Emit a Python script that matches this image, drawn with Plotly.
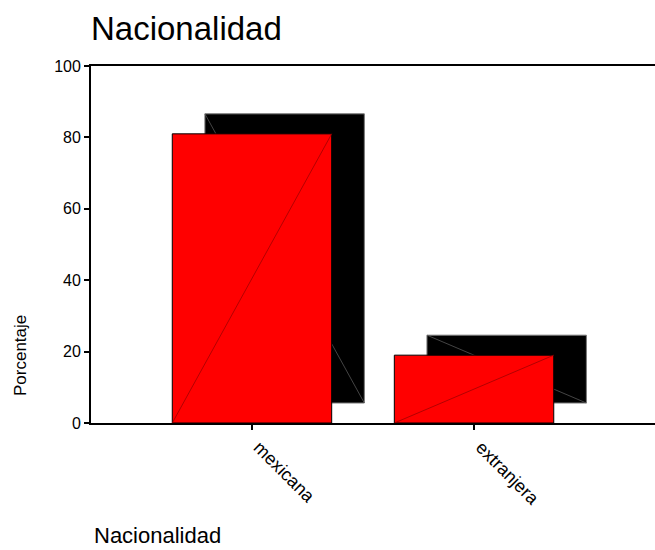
import plotly.graph_objects as go

# Data
categorias = ["mexicana", "extranjera"]
porcentajes = [81.0, 19.0]
y_ticks = [0, 20, 40, 60, 80, 100]

# Bar geometry (in axis units)
ANCHO = 0.718
DX, DY = 0.147, 5.6   # offset of the 3-D shadow block

FONT = "Liberation Sans, Arial, sans-serif"

fig = go.Figure()

for i, v in enumerate(porcentajes):
    x0, x1 = i - ANCHO / 2, i + ANCHO / 2
    # shadow block behind the bar
    sx0, sx1 = x0 + DX, x1 + DX
    fig.add_trace(go.Scatter(
        x=[sx0, sx1, sx1, sx0, sx0], y=[DY, DY, DY + v, DY + v, DY],
        fill="toself", fillcolor="black", mode="lines",
        line=dict(color="#777777", width=1), hoverinfo="skip", showlegend=False))
    fig.add_trace(go.Scatter(
        x=[sx0, sx1], y=[DY + v, DY], mode="lines",
        line=dict(color="#555555", width=0.8), hoverinfo="skip", showlegend=False))
    # front red face
    fig.add_trace(go.Scatter(
        x=[x0, x1, x1, x0, x0], y=[0, 0, v, v, 0],
        fill="toself", fillcolor="#ff0000", mode="lines",
        line=dict(color="black", width=1), name=categorias[i],
        hovertemplate="%{fullData.name}: " + f"{v:.1f}%<extra></extra>", showlegend=False))
    fig.add_trace(go.Scatter(
        x=[x0, x1], y=[0, v], mode="lines",
        line=dict(color="#a00000", width=0.8), hoverinfo="skip", showlegend=False))

fig.update_layout(
    width=655, height=550,
    margin=dict(l=91, r=0, t=66, b=127),
    paper_bgcolor="white", plot_bgcolor="white",
    font=dict(family=FONT, color="black", size=16),
    title=dict(text="Nacionalidad", x=91 / 655, xanchor="left", xref="container",
               y=1 - 28 / 550, yanchor="middle", yref="container",
               font=dict(size=33, family=FONT, color="black")),
    xaxis=dict(range=[-0.725, 1.815], tickmode="array", tickvals=list(range(len(categorias))),
               ticktext=categorias, tickangle=45, ticks="outside", ticklen=5, tickwidth=1.5,
               tickcolor="black", showline=True, linecolor="black", linewidth=1.8,
               mirror=True, showgrid=False, zeroline=False, ticklabelshift=7,
               tickfont=dict(size=18, family=FONT, color="black")),
    yaxis=dict(range=[0, 100], tickmode="array", tickvals=y_ticks, ticks="outside",
               ticklen=5, tickwidth=1.5, tickcolor="black", showline=True,
               linecolor="black", linewidth=1.8, showgrid=False, zeroline=False,
               tickfont=dict(size=16, family=FONT, color="black")),
    annotations=[
        dict(text="Porcentaje", textangle=-90, xref="paper", yref="paper",
             x=-71 / 564, y=(423 - 356) / 357, xanchor="center", yanchor="middle",
             showarrow=False, font=dict(size=17, family=FONT, color="black")),
        dict(text="Nacionalidad", xref="paper", yref="paper",
             x=0, y=-(535 - 423) / 357, xanchor="left", yanchor="middle",
             xshift=1, showarrow=False, font=dict(size=22, family=FONT, color="black")),
    ],
)

fig.write_html("out.html")
